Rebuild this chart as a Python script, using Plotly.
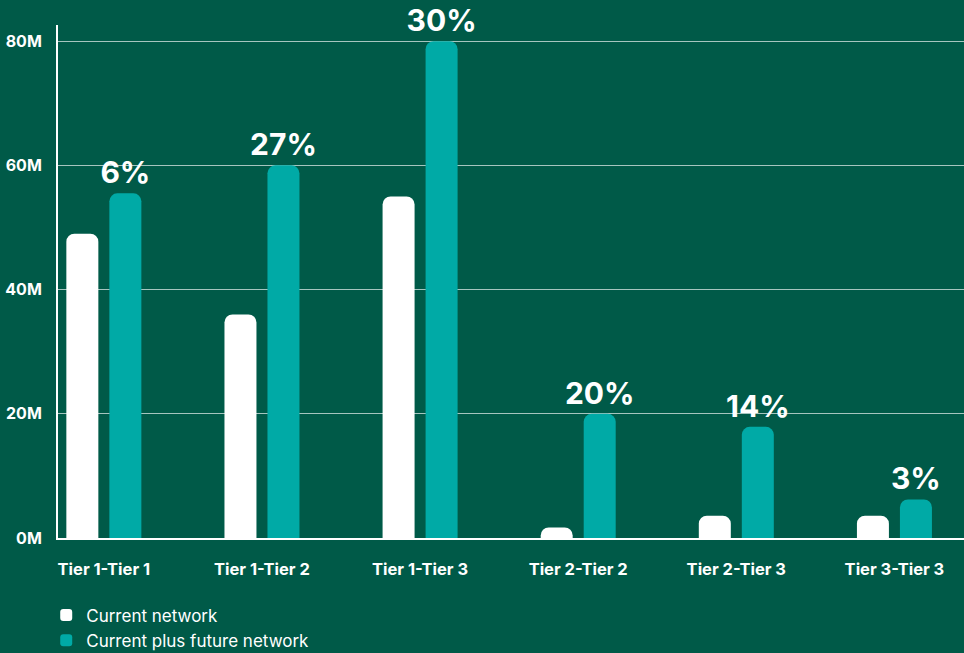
import plotly.graph_objects as go

categories = ["Tier 1-Tier 1", "Tier 1-Tier 2", "Tier 1-Tier 3", "Tier 2-Tier 2", "Tier 2-Tier 3", "Tier 3-Tier 3"]
current = [49, 36, 55, 1.7, 3.6, 3.6]
current_plus_future = [55.5, 60, 80, 20, 17.9, 6.2]
pct_labels = ["6%", "27%", "30%", "20%", "14%", "3%"]
y_tickvals = [0, 20, 40, 60, 80]
y_ticktext = ["0M", "20M", "40M", "60M", "80M"]

BG = "#005a48"
TEAL = "#00aaa6"
FONT = "Inter"

fig = go.Figure()
fig.add_trace(go.Bar(
    x=categories, y=current, name="Current network",
    marker=dict(color="white", line=dict(width=0)),
))
fig.add_trace(go.Bar(
    x=categories, y=current_plus_future, name="Current plus future network",
    marker=dict(color=TEAL, line=dict(width=0)),
    text=pct_labels, textposition="outside", cliponaxis=False,
    constraintext="none",
    textfont=dict(family=FONT, size=30, color="white", weight=700),
))

fig.update_layout(
    width=964, height=653,
    paper_bgcolor=BG, plot_bgcolor=BG,
    margin=dict(l=58, r=0, t=25, b=115, autoexpand=False),
    barmode="group", bargap=0.456, bargroupgap=0.256,
    barcornerradius=8,
    font=dict(family=FONT, color="white"),
    showlegend=True,
    legend=dict(
        orientation="v", x=-0.013, xanchor="left",
        yref="container", y=0.085, yanchor="top",
        font=dict(family=FONT, size=17, color="white"),
        bgcolor="rgba(0,0,0,0)", tracegroupgap=0, itemsizing="constant",
    ),
    xaxis=dict(
        type="category", range=[-0.29, 5.44],
        showline=True, linecolor="white", linewidth=2,
        showgrid=False, ticks="", ticklabelstandoff=15,
        tickfont=dict(family=FONT, size=16.5, color="white", weight=700),
    ),
    yaxis=dict(
        range=[0, 82.6], tickvals=y_tickvals, ticktext=y_ticktext,
        showline=True, linecolor="white", linewidth=2,
        showgrid=True, gridcolor="rgba(255,255,255,0.65)", gridwidth=1,
        zeroline=False, ticks="", ticklabelstandoff=11,
        tickfont=dict(family=FONT, size=16, color="white", weight=700),
    ),
)

fig.write_html("out.html", config={"displayModeBar": False},
               post_script="document.body.style.margin='0';document.body.style.overflow='hidden';")
